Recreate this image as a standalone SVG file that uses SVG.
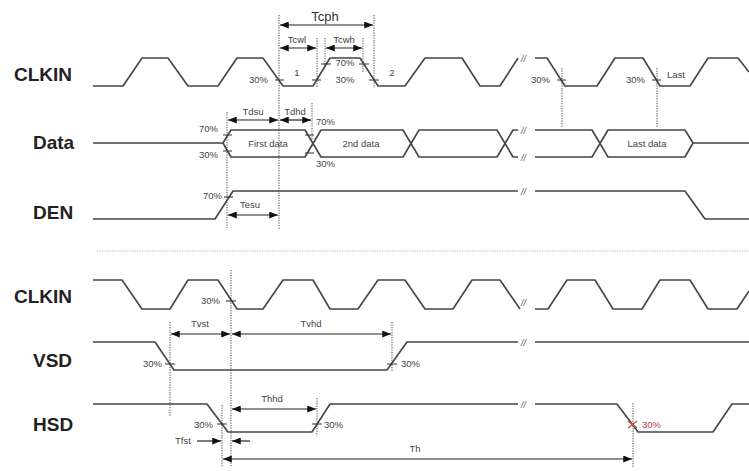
<svg xmlns="http://www.w3.org/2000/svg" width="749" height="471" viewBox="0 0 749 471">
<defs>
<style>
.w{fill:none;stroke:#444;stroke-width:1.6;stroke-linejoin:round}
.d{fill:none;stroke:#666;stroke-width:1.2;stroke-dasharray:1.2 1.3}
.sep{fill:none;stroke:#aaa;stroke-width:1.2;stroke-dasharray:1.2 1.3}
.a{fill:none;stroke:#222;stroke-width:1.2;marker-start:url(#ah);marker-end:url(#ah)}
.ae{fill:none;stroke:#222;stroke-width:1.2;marker-end:url(#ah)}
.t{fill:none;stroke:#333;stroke-width:1.1}
.lab{font-family:"Liberation Sans",Arial,sans-serif;font-weight:bold;font-size:19px;fill:#222}
.s{font-family:"Liberation Sans",Arial,sans-serif;font-size:9.5px;fill:#444}
.m{font-family:"Liberation Sans",Arial,sans-serif;font-size:13px;fill:#333}
.c{text-anchor:middle}
.e{text-anchor:end}
.br{font-family:"Liberation Sans",Arial,sans-serif;font-style:italic;font-size:9px;fill:#555}
</style>
<marker id="ah" viewBox="0 0 10 8" refX="10" refY="4" markerWidth="10" markerHeight="7" markerUnits="userSpaceOnUse" orient="auto-start-reverse"><path d="M0,0 L10,4 L0,8 z" fill="#111"/></marker>
</defs>
<rect width="749" height="471" fill="#fff"/>

<g id="labels">
<text class="lab" x="14" y="81">CLKIN</text>
<text class="lab" x="33" y="149">Data</text>
<text class="lab" x="33" y="219">DEN</text>
<text class="lab" x="14" y="303">CLKIN</text>
<text class="lab" x="33" y="367">VSD</text>
<text class="lab" x="33" y="431">HSD</text>
</g>

<g id="guides">
<path class="d" d="M279,15 V230 M374,15 V88 M317,38 V88 M325,38 V68 M363,38 V72 M562,68 V128 M657,68 V128 M227,112 V228 M312,103 V140 M231,270 V466 M170,322 V416 M392,322 V372 M222,405 V467 M317,398 V436 M633,403 V467"/>
<path class="sep" d="M97,251 H749"/>
</g>

<g id="clkin1">
<path class="w" d="M93,86 L123,86 L142,58 L168,58 L188,86 L218,86 L237,58 L263,58 L283,86 L313,86 L330,58 L360,58 L378,86 L405,86 L425,58 L462,58 L480,86 L500,86 L518,58"/>
<path class="w" d="M535,58 L547,58 L565,86 L597,86 L615,58 L643,58 L660,86 L690,86 L708,58 L738,58 L749,72"/>
<text class="br" x="521" y="62">//</text>
<path class="t" d="M275,80 H284 M312,80 H321 M321,64 H331 M359,64 H369 M369,80 H379 M557,80 H566 M652,80 H661"/>
<text class="s e" x="268" y="83">30%</text>
<text class="s c" x="297" y="76">1</text>
<text class="s c" x="392" y="76">2</text>
<text class="s c" x="345" y="66">70%</text>
<text class="s c" x="345" y="83">30%</text>
<text class="s" x="531" y="83">30%</text>
<text class="s" x="626" y="83">30%</text>
<text class="s" x="667" y="78">Last</text>
</g>

<g id="data">
<path class="w" d="M93,143 L223,143 L231,130 L305,130 L321,157 L403,157 L419,130 L497,130 L513,157 L518,157"/>
<path class="w" d="M223,143 L231,157 L305,157 L321,130 L403,130 L419,157 L497,157 L513,130 L518,130"/>
<path class="w" d="M535,130 L592,130 L608,157 L685,157 L693,143 L749,143 M535,157 L592,157 L608,130 L685,130 L693,143"/>
<text class="br" x="521" y="134">//</text>
<text class="br" x="521" y="161">//</text>
<path class="t" d="M223,135 H232 M223,151 H232 M305,135 H314 M305,153 H314"/>
<text class="s e" x="218" y="132">70%</text>
<text class="s e" x="218" y="158">30%</text>
<text class="s" x="316" y="125">70%</text>
<text class="s" x="316" y="167">30%</text>
<text class="s c" x="268" y="147">First data</text>
<text class="s c" x="361" y="147">2nd data</text>
<text class="s c" x="647" y="147">Last data</text>
</g>

<g id="den">
<path class="w" d="M93,219 L215,219 L233,191 L518,191 M535,191 L685,191 L705,219 L749,219"/>
<text class="br" x="521" y="195">//</text>
<path class="t" d="M224,197 H233"/>
<text class="s e" x="222" y="199">70%</text>
</g>

<g id="clkin2">
<path class="w" d="M93,280 L122,280 L142,309 L170,309 L188,280 L218,280 L237,309 L263,309 L283,280 L313,280 L330,309 L358,309 L378,280 L405,280 L425,309 L453,309 L472,280 L500,280 L520,309"/>
<path class="w" d="M535,309 L548,309 L567,280 L595,280 L613,309 L642,309 L660,280 L690,280 L708,309 L737,309 L749,291"/>
<text class="br" x="521" y="306">//</text>
<path class="t" d="M226,301 H236"/>
<text class="s e" x="220" y="304">30%</text>
</g>

<g id="vsd">
<path class="w" d="M93,342 L155,342 L174,370 L387,370 L407,342 L518,342 M535,342 L749,342"/>
<text class="br" x="521" y="346">//</text>
<path class="t" d="M165,364 H175 M387,364 H397"/>
<text class="s e" x="162" y="367">30%</text>
<text class="s" x="401" y="367">30%</text>
</g>

<g id="hsd">
<path class="w" d="M93,404 L207,404 L228,432 L312,432 L330,404 L518,404 M535,404 L617,404 L638,432 L713,432 L732,404 L749,404"/>
<text class="br" x="521" y="408">//</text>
<path class="t" d="M217,424 H227 M312,424 H322"/>
<path d="M628,421 L637,428 M628,428 L637,421" fill="none" stroke="#c04848" stroke-width="1.1"/>
<text class="s e" x="213" y="428">30%</text>
<text class="s" x="324" y="428">30%</text>
<text class="s" x="642" y="428" fill="#b84040" style="fill:#b84040">30%</text>
</g>

<g id="connectors">
<path class="a" d="M280,25 H373"/>
<path class="a" d="M280,48 H316"/>
<path class="a" d="M326,48 H362"/>
<path class="a" d="M228,120 H278"/>
<path class="a" d="M280,120 H311"/>
<path class="a" d="M228,215 H278"/>
<path class="a" d="M171,334 H230"/>
<path class="a" d="M232,334 H391"/>
<path class="a" d="M232,409 H316"/>
<path class="ae" d="M197,441 H221"/>
<path class="ae" d="M250,441 H232"/>
<path class="a" d="M223,459 H632"/>
<text class="m c" x="325" y="21">Tcph</text>
<text class="s c" x="297" y="43">Tcwl</text>
<text class="s c" x="344" y="43">Tcwh</text>
<text class="s c" x="253" y="115">Tdsu</text>
<text class="s c" x="295" y="115">Tdhd</text>
<text class="s c" x="250" y="208">Tesu</text>
<text class="s c" x="200" y="327">Tvst</text>
<text class="s c" x="311" y="327">Tvhd</text>
<text class="s c" x="272" y="402">Thhd</text>
<text class="s" x="175" y="444">Tfst</text>
<text class="s c" x="415" y="452">Th</text>
</g>
</svg>
